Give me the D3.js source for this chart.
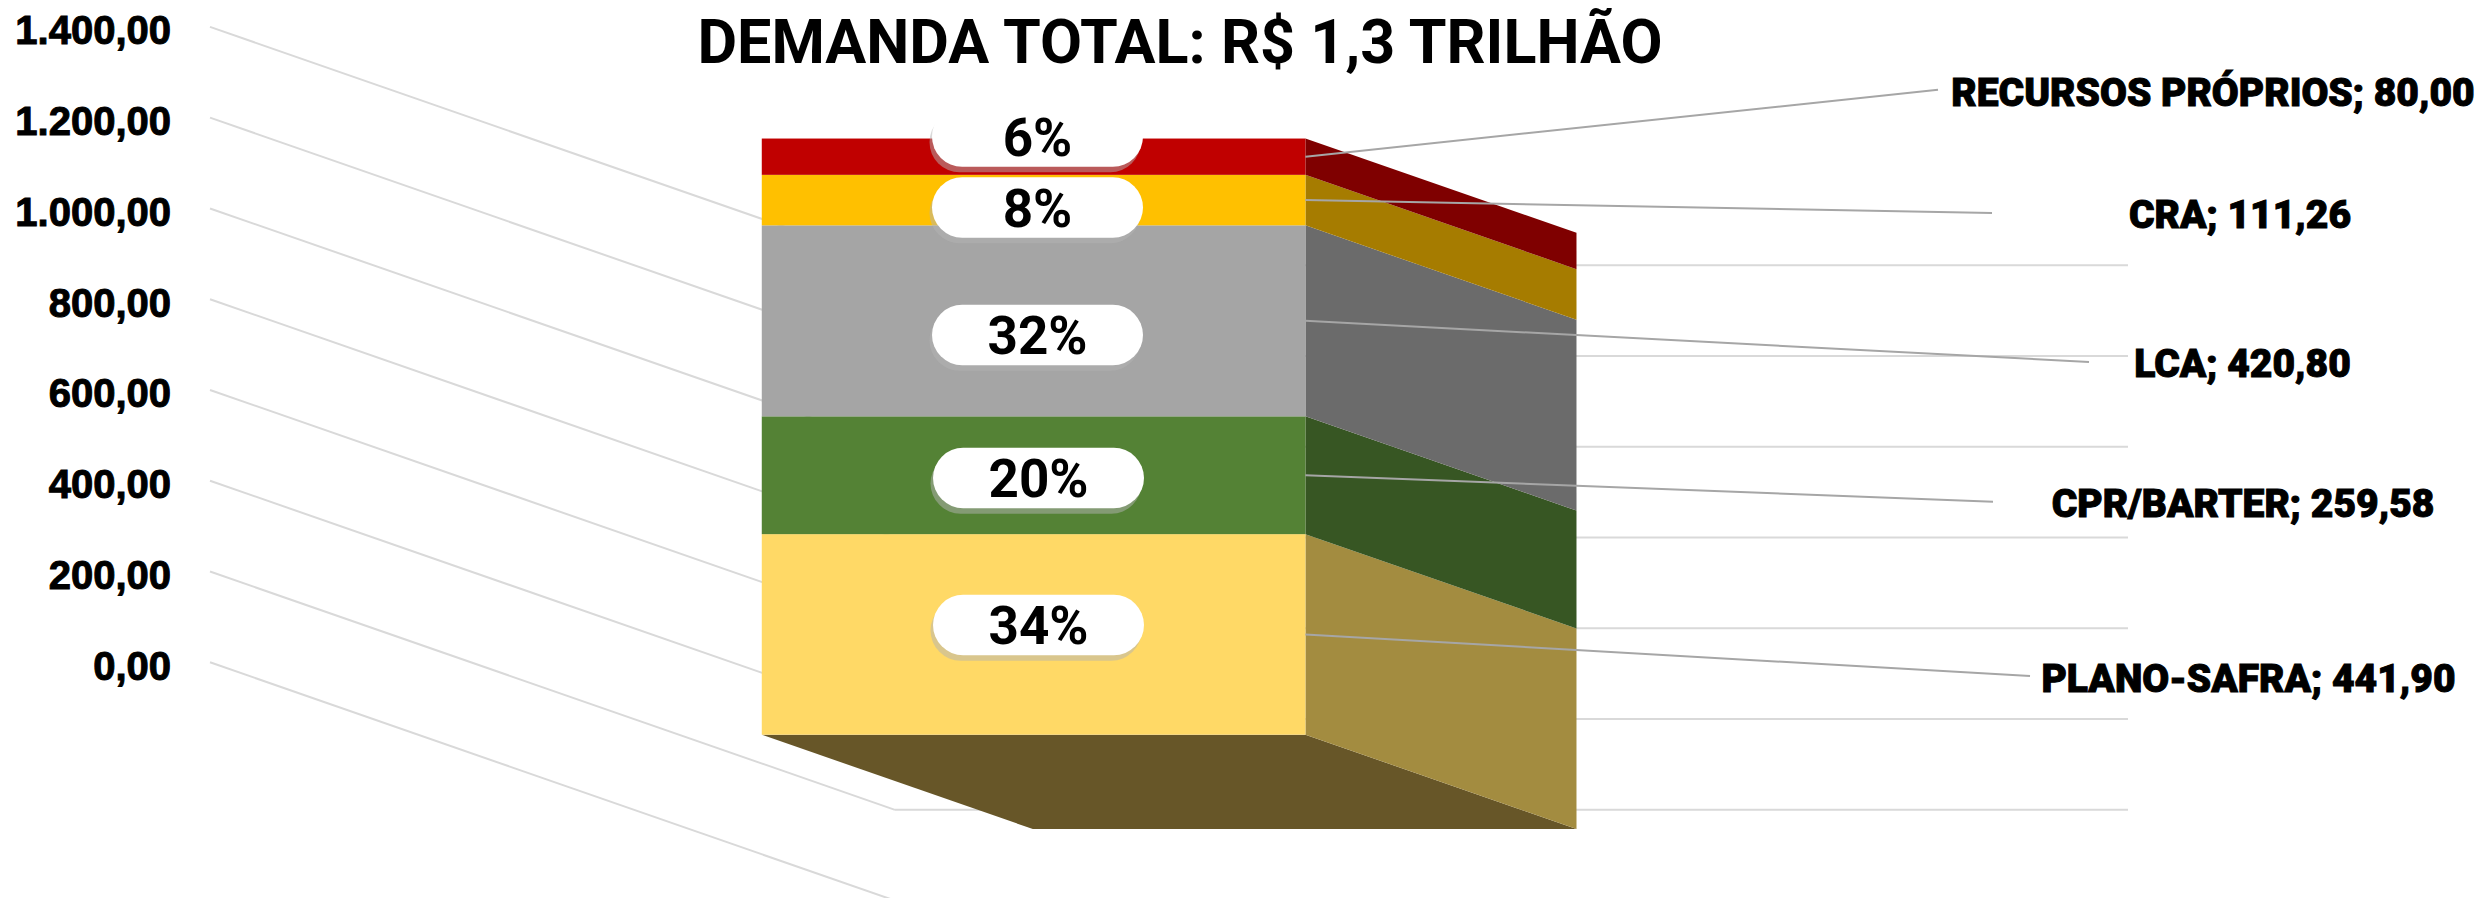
<!DOCTYPE html>
<html>
<head>
<meta charset="utf-8">
<script src="https://d3js.org/d3.v7.min.js"></script>
<style>
  html, body { margin:0; background:#fff; overflow:hidden; }
  svg { display:block; font-family:Roboto, sans-serif; }
  .tick-label text { font-size:40px; font-weight:900; fill:#000; stroke:#000; stroke-width:1px; }
  .cat-label { font-size:39px; font-weight:900; fill:#000; stroke:#000; stroke-width:1px; text-anchor:middle; }
  .pct-label { font-size:53px; font-weight:700; fill:#000; text-anchor:middle; dominant-baseline:central; }
  .title { font-size:61px; font-weight:700; fill:#000; text-anchor:middle; }
  .grid { stroke:#d9d9d9; stroke-width:2px; fill:none; }
  .leader { stroke:#a6a6a6; stroke-width:2px; fill:none; }
</style>
</head>
<body>
<div id="chart"></div>
<script>
const titleText = "DEMANDA TOTAL: R$ 1,3 TRILHÃO";
const categories = ["PLANO-SAFRA", "CPR/BARTER", "LCA", "CRA", "RECURSOS PRÓPRIOS"];
const values = [441.90, 259.58, 420.80, 111.26, 80.00];
const shares = ["34%", "20%", "32%", "8%", "6%"];
const axisTicks = [0, 200, 400, 600, 800, 1000, 1200, 1400];

// colours per segment, front then side
const frontColors = ["#ffd966", "#548235", "#a5a5a5", "#ffc000", "#c00000"];
const sideColors = ["#a38c40", "#375623", "#6b6b6b", "#a67c00", "#7f0000"];
const floorColor = "#675628";

// hand placed bits, same order as categories
const leaderEnds = [[2030, 676], [1993, 501.7], [2089, 362], [1992, 213], [1938, 89.7]];
const catLabelPos = [[2248.5, 691.7], [2243, 517], [2242.5, 377], [2240, 227.7], [2213, 105.7]];
const pillCenters = [[1038.5, 625], [1038.5, 478], [1037.5, 335], [1037.5, 207.5], [1037.5, 136.6]];

const width = 2491, height = 898;
const svg = d3.select("#chart").append("svg").attr("width", width).attr("height", height);

const ptBR = d3.formatLocale({ decimal: ",", thousands: ".", grouping: [3], currency: ["R$", ""] });
const fmt = ptBR.format(",.2f");

// fake 3D: value goes up, depth pushes the point right and down
const yScale = d3.scaleLinear().domain([0, 1400]).range([662.3, 26.9]);
const depthX = d3.scaleLinear().domain([0, 1]).range([210, 895]);
const depthY = d3.scaleLinear().domain([0, 1]).range([0, 238.3]);
const band = d3.scaleBand().domain(["demanda"]).range([-1, 1232]).padding(0.388);

const px = (lateral, depth) => depthX(depth) + lateral;
const py = (v, depth) => yScale(v) + depthY(depth);

const frontDepth = 0.3038, backDepth = 0.6995;
const barL = band("demanda"), barR = barL + band.bandwidth();

const stacked = [];
values.reduce((acc, v, i) => {
  stacked.push({ i, y0: acc, y1: acc + v });
  return acc + v;
}, 0);

const line = d3.line();

// walls
const grid = svg.append("g");
grid.selectAll("path.left").data(axisTicks).join("path")
  .attr("class", "grid left")
  .attr("d", v => line([[px(0, 0), py(v, 0)], [px(0, 1), py(v, 1)]]));
grid.selectAll("path.back").data(axisTicks).join("path")
  .attr("class", "grid back")
  .attr("d", v => line([[px(0, 1), py(v, 1)], [px(1233, 1), py(v, 1)]]));

// y axis
svg.append("g")
  .attr("class", "tick-label")
  .attr("transform", "translate(171,0)")
  .call(d3.axisLeft(yScale).tickValues(axisTicks).tickFormat(fmt).tickSize(0).tickPadding(0))
  .call(g => g.select(".domain").remove())
  .call(g => g.selectAll("text").attr("dy", "0.42em"));

// bar
svg.append("path")
  .attr("fill", floorColor)
  .attr("d", line([
    [px(barL, frontDepth), py(0, frontDepth)],
    [px(barR, frontDepth), py(0, frontDepth)],
    [px(barR, backDepth), py(0, backDepth)],
    [px(barL, backDepth), py(0, backDepth)]
  ]) + "Z");

svg.append("g").selectAll("path").data(stacked).join("path")
  .attr("fill", d => sideColors[d.i])
  .attr("d", d => line([
    [px(barR, frontDepth), py(d.y0, frontDepth)],
    [px(barR, frontDepth), py(d.y1, frontDepth)],
    [px(barR, backDepth), py(d.y1, backDepth)],
    [px(barR, backDepth), py(d.y0, backDepth)]
  ]) + "Z");

svg.append("g").selectAll("rect").data(stacked).join("rect")
  .attr("fill", d => frontColors[d.i])
  .attr("x", px(barL, frontDepth))
  .attr("width", barR - barL)
  .attr("y", d => py(d.y1, frontDepth))
  .attr("height", d => py(d.y0, frontDepth) - py(d.y1, frontDepth));

// leader lines
svg.append("g").selectAll("path").data(stacked).join("path")
  .attr("class", "leader")
  .attr("d", d => line([
    [px(barR, frontDepth), py((d.y0 + d.y1) / 2, frontDepth)],
    leaderEnds[d.i]
  ]));

// percent pills
const pillW = 211, pillH = 60.4;
const pills = svg.append("g").selectAll("g").data(stacked).join("g")
  .attr("transform", d => `translate(${pillCenters[d.i][0]},${pillCenters[d.i][1]})`);
pills.append("rect")
  .attr("x", -pillW / 2 - 2.5).attr("y", -pillH / 2 + 5.5)
  .attr("width", pillW).attr("height", pillH)
  .attr("rx", pillH / 2).attr("ry", pillH / 2)
  .attr("fill", "#b4b4b4").attr("fill-opacity", 0.5);
pills.append("rect")
  .attr("x", -pillW / 2).attr("y", -pillH / 2)
  .attr("width", pillW).attr("height", pillH)
  .attr("rx", pillH / 2).attr("ry", pillH / 2)
  .attr("fill", "#fff");
pills.append("text")
  .attr("class", "pct-label")
  .attr("y", 1)
  .text(d => shares[d.i]);

// category labels
svg.append("g").selectAll("text").data(stacked).join("text")
  .attr("class", "cat-label")
  .attr("x", d => catLabelPos[d.i][0])
  .attr("y", d => catLabelPos[d.i][1])
  .text(d => `${categories[d.i]}; ${fmt(values[d.i])}`);

svg.append("text")
  .attr("class", "title")
  .attr("x", 1180)
  .attr("y", 63.3)
  .text(titleText);
</script>
</body>
</html>
